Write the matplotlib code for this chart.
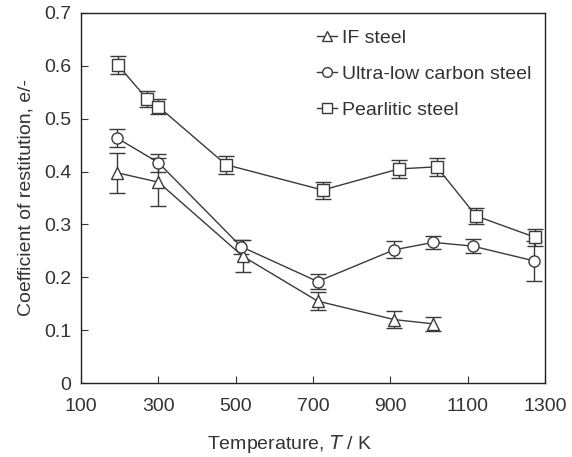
import matplotlib
matplotlib.use("Agg")
import matplotlib.pyplot as plt
from matplotlib.lines import Line2D

plt.rcParams['font.family'] = ['Liberation Sans', 'DejaVu Sans']

# IF steel
if_T = [192, 300, 518, 712, 910, 1010]
if_e = [0.398, 0.380, 0.240, 0.155, 0.120, 0.112]
if_err = [0.038, 0.045, 0.030, 0.017, 0.016, 0.013]

# Ultra-low carbon steel
ul_T = [192, 300, 514, 712, 910, 1011, 1113, 1272]
ul_e = [0.464, 0.417, 0.258, 0.192, 0.252, 0.266, 0.259, 0.231]
ul_err = [0.017, 0.017, 0.013, 0.015, 0.016, 0.013, 0.013, 0.038]

# Pearlitic steel
pe_T = [196, 270, 300, 475, 725, 922, 1020, 1122, 1273]
pe_e = [0.601, 0.538, 0.523, 0.413, 0.365, 0.405, 0.409, 0.316, 0.276]
pe_err = [0.017, 0.015, 0.015, 0.017, 0.016, 0.017, 0.017, 0.016, 0.016]

labels = ['IF steel', 'Ultra-low carbon steel', 'Pearlitic steel']
markers = ['^', 'o', 's']

xticks = [100, 300, 500, 700, 900, 1100, 1300]
yticks = [0, 0.1, 0.2, 0.3, 0.4, 0.5, 0.6, 0.7]
yticklabels = ['0', '0.1', '0.2', '0.3', '0.4', '0.5', '0.6', '0.7']

fig = plt.figure(figsize=(5.72, 4.57), dpi=100)
ax = fig.add_axes([0.1416, 0.1619, 0.8112, 0.8097])

lc = '#3a3a3a'
tc = '#333333'
common = dict(color=lc, mfc='white', mec=lc, mew=1.0, lw=1.0,
              ms=8, capsize=5.5, elinewidth=1.0, capthick=1.0)

series = [(if_T, if_e, if_err), (ul_T, ul_e, ul_err), (pe_T, pe_e, pe_err)]
handles = []
for (T, e, err), m, lab in zip(series, markers, labels):
    ax.errorbar(T, e, yerr=err, marker=m, **common)
    handles.append(Line2D([], [], color=lc, marker=m, mfc='white', mec=lc,
                          mew=1.0, lw=1.0, ms=7, label=lab))

ax.set_xlim(100, 1300)
ax.set_ylim(0, 0.7)
ax.set_xticks(xticks)
ax.set_xticklabels([str(t) for t in xticks])
ax.set_yticks(yticks)
ax.set_yticklabels(yticklabels)
ax.tick_params(direction='in', length=5, width=0.8, labelsize=14, colors=tc,
               pad=7)
ax.tick_params(axis='x', pad=11)
for s in ax.spines.values():
    s.set_linewidth(1.0)
    s.set_color('#222222')

ax.set_xlabel('Temperature, $\\it{T}$ / K', fontsize=14, color=tc, labelpad=9)
ax.xaxis.set_label_coords(0.45, -0.135)
ax.set_ylabel('Coefficient of restitution, e/-', fontsize=14, color=tc, labelpad=7)

leg = ax.legend(handles=handles, loc='upper left', frameon=False, fontsize=14,
                handlelength=1.0, handletextpad=0.3, labelspacing=0.95,
                borderaxespad=0.0, borderpad=0.0,
                bbox_to_anchor=(0.509, 0.957))
for t in leg.get_texts():
    t.set_color(tc)

fig.savefig('out.png', dpi=100)
